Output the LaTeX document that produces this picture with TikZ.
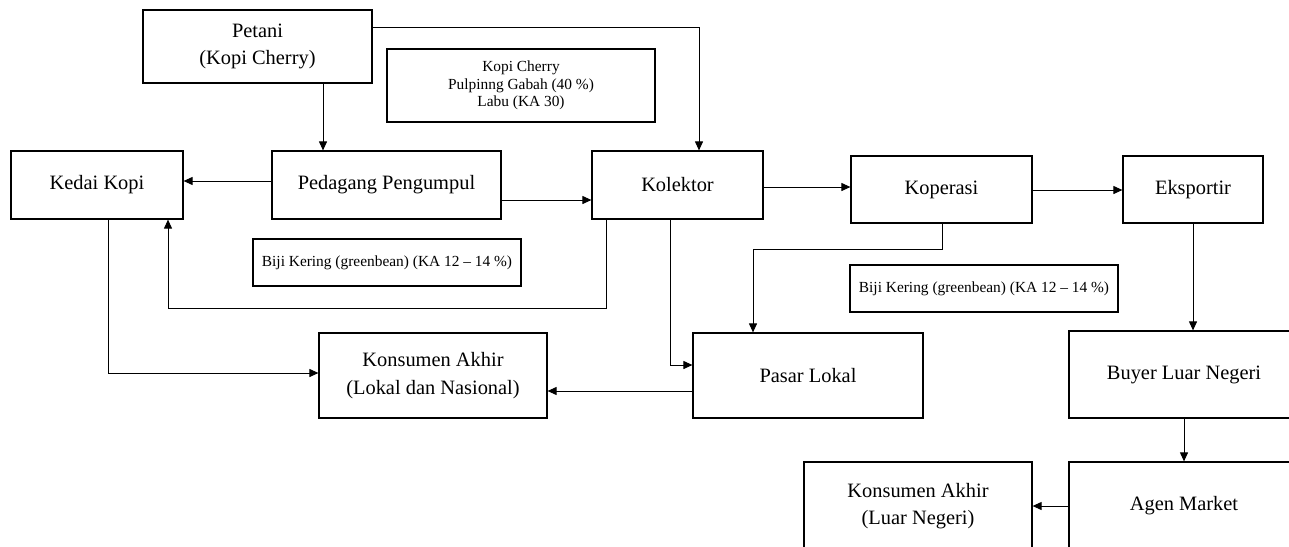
\documentclass[tikz,border=0pt]{standalone}
\usepackage{fontspec}
\setmainfont{Liberation Serif}
\usetikzlibrary{positioning}
\usetikzlibrary{arrows.meta}

\begin{document}
\begin{tikzpicture}[x=0.5pt,y=-0.5pt,
  kotak/.style={draw,line width=0.6pt,inner sep=0pt,align=center,font=\fontsize{10.2}{13.6}\selectfont},
  ket/.style={draw,line width=0.6pt,inner sep=0pt,align=center,font=\fontsize{7.7}{8.8}\selectfont},
  panah/.style={-{Triangle[length=4.5pt,width=4pt]},line width=0.5pt}]
\useasboundingbox (0,0) rectangle (1289,546);
\clip (0,0) rectangle (1289,546);

\node[kotak,minimum width=114.5pt,minimum height=36.5pt] (petani) at (257.5,46.5) {Petani\\(Kopi Cherry)};
\node[ket,minimum width=134pt,minimum height=36.5pt] (ketcherry) at (521,85.5) {Kopi Cherry\\Pulpinng Gabah (40 \%)\\Labu (KA 30)};

\node[kotak,minimum width=86pt,minimum height=34pt] (kedai) at (97,185) {Kedai Kopi};
\node[kotak,minimum width=114.5pt,minimum height=34pt] (pedagang) at (386.5,185) {Pedagang Pengumpul};
\node[kotak,minimum width=85.5pt,minimum height=34pt] (kolektor) at (677.5,185) {Kolektor};
\node[kotak,minimum width=90.5pt,minimum height=33.5pt] (koperasi) at (941.5,189.5) {Koperasi};
\node[kotak,minimum width=70pt,minimum height=33.5pt] (eksportir) at (1193,189.5) {Eksportir};

\node[ket,minimum width=134pt,minimum height=23.5pt] (ketbiji) at (387,262.5) {Biji Kering (greenbean) (KA 12 -- 14 \%)};
\node[ket,minimum width=134pt,minimum height=23.5pt] (ketbijii) at (984,288.5) {Biji Kering (greenbean) (KA 12 -- 14 \%)};

\node[kotak,minimum width=114pt,minimum height=42.5pt] (konlokal) at (433,375.5) {Konsumen Akhir\\(Lokal dan Nasional)};
\node[kotak,minimum width=115pt,minimum height=42.5pt] (pasar) at (808,375.5) {Pasar Lokal};
\node[kotak,minimum width=115pt,minimum height=43.5pt] (buyer) at (1184,374.5) {Buyer Luar Negeri};
\node[kotak,minimum width=115pt,minimum height=44pt] (agen) at (1184,506) {Agen Market};
\node[kotak,minimum width=114pt,minimum height=44pt] (konluar) at (918,506) {Konsumen Akhir\\(Luar Negeri)};

% alur dari petani
\draw[panah] (petani.south -| 323,0) -- (pedagang.north -| 323,0);
\draw[panah] (petani.east |- 0,27) -- (699,27) -- (kolektor.north -| 699,0);

\draw[panah] (pedagang.west |- 0,181) -- (kedai.east |- 0,181);
\draw[panah] (pedagang.east |- 0,200) -- (kolektor.west |- 0,200);

\draw[panah] (kolektor.south -| 606,0) |- (168,308) -- (kedai.south -| 168,0);
\draw[panah] (kedai.south -| 108,0) |- (konlokal.west |- 0,373);
\draw[panah] (kolektor.south -| 670,0) |- (pasar.west |- 0,365);

\draw[panah] (kolektor.east |- 0,187) -- (koperasi.west |- 0,187);
\draw[panah] (koperasi.east |- 0,190) -- (eksportir.west |- 0,190);
\draw[panah] (koperasi.south -| 942,0) |- (753,249) -- (pasar.north -| 753,0);
\draw[panah] (pasar.west |- 0,391) -- (konlokal.east |- 0,391);

% ekspor
\draw[panah] (eksportir.south -| 1193,0) -- (buyer.north -| 1193,0);
\draw[panah] (buyer.south) -- (agen.north);
\draw[panah] (agen.west) -- (konluar.east);
\end{tikzpicture}
\end{document}
